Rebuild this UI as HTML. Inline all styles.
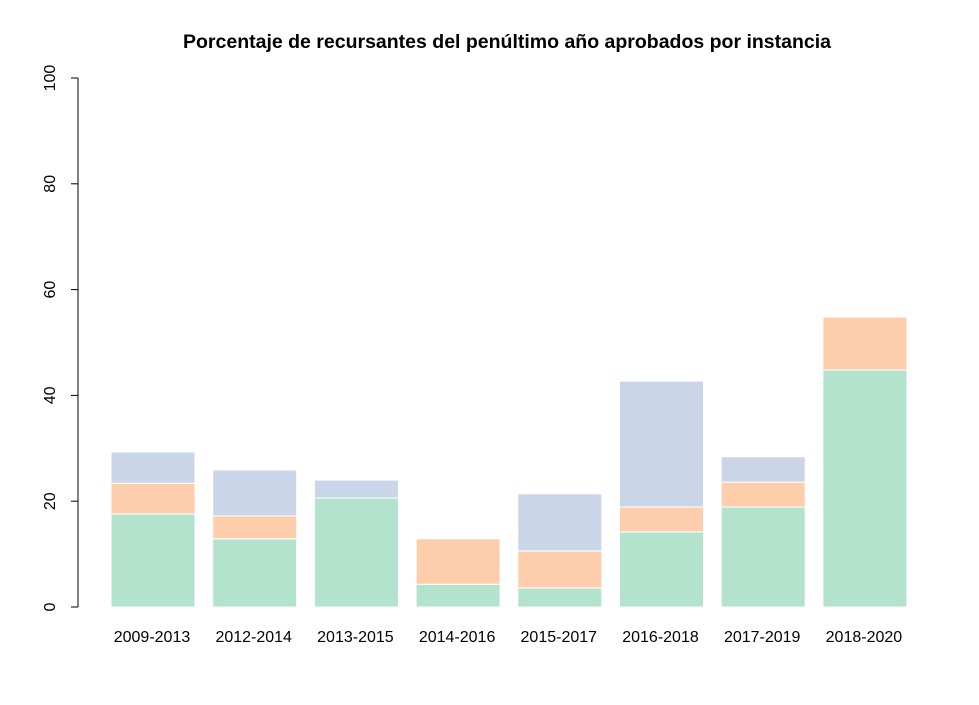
<!DOCTYPE html>
<html><head><meta charset="utf-8"><style>
body{margin:0;background:#fff;}
svg{display:block;font-family:"Liberation Sans",Arial,sans-serif;}
</style></head><body>
<svg id="chart" width="979" height="705">
<text x="507" y="48" text-anchor="middle" font-size="19.5" font-weight="bold">Porcentaje de recursantes del penúltimo año aprobados por instancia</text>
<g id="yaxis"></g>
<g id="bars"></g>
<g id="xlabels"></g>
</svg>
<script>
const categories=["2009-2013","2012-2014","2013-2015","2014-2016","2015-2017","2016-2018","2017-2019","2018-2020"];
const greenVals=[17.6,12.9,20.6,4.3,3.6,14.2,18.9,44.8];
const orangeVals=[5.8,4.3,0,8.6,7.0,4.7,4.7,10.0];
const blueVals=[5.9,8.7,3.4,0,10.8,23.8,4.8,0];
const yTicks=[0,20,40,60,80,100];
const NS="http://www.w3.org/2000/svg";
const y0=607,y100=78;
function yScale(v){return y0-(y0-y100)*v/100;}
function xScale(i){return 111+i*101.7;}
const bw=84;
function mk(tag,attrs,parent){const e=document.createElementNS(NS,tag);for(const k in attrs)e.setAttribute(k,attrs[k]);parent.appendChild(e);return e;}
const ya=document.getElementById('yaxis');
const axl=mk('line',{x1:78,x2:78,y1:yScale(0),y2:yScale(100),stroke:'#000'},ya);


yTicks.forEach(t=>{
  const y=yScale(t);
  const tl=mk('line',{x1:71,x2:78,y1:y,y2:y,stroke:'#000'},ya);
  
  
  const tx=mk('text',{x:55,y:y,'font-size':16,'text-anchor':'middle',transform:`rotate(-90 55 ${y})`},ya);
  tx.textContent=t;
  
  
});
const bg=document.getElementById('bars');
const xl=document.getElementById('xlabels');
const series=[[greenVals,'#b3e2cd','green'],[orangeVals,'#fdcdac','orange'],[blueVals,'#cbd5e8','blue']];
categories.forEach((c,i)=>{
  let base=0;
  series.forEach(([vals,col,nm])=>{
    const v=vals[i];
    if(v>0){
      const r=mk('rect',{x:xScale(i),y:yScale(base+v),width:bw,height:yScale(base)-yScale(base+v),fill:col,stroke:'#fff','stroke-width':1},bg);
      
      
    }
    base+=v;
  });
  const t=mk('text',{x:xScale(i)+bw/2-1,y:642,'font-size':16,'text-anchor':'middle'},xl);
  t.textContent=c;
  
  
});
</script>
</body></html>
